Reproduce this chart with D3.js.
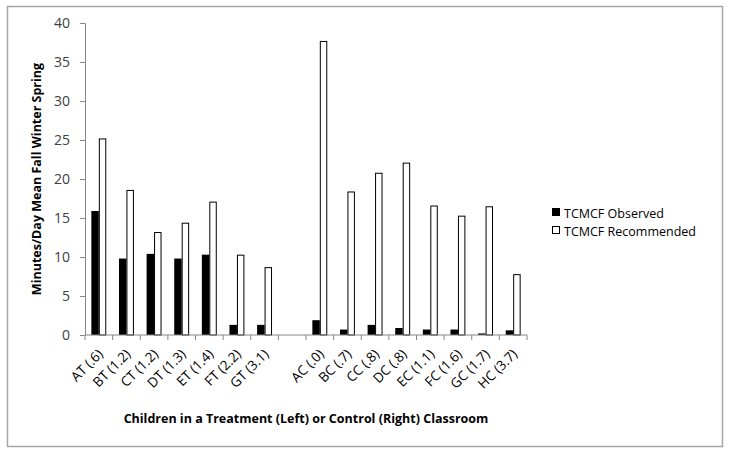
<!DOCTYPE html>
<html>
<head>
<meta charset="utf-8">
<script src="https://cdn.jsdelivr.net/npm/d3@7"></script>
<style>
  body { margin: 0; background: #fff; }
  text { font-family: "Open Sans", "Noto Sans", sans-serif; }
</style>
</head>
<body>
<script>
// categories (blank slot separates treatment and control groups)
const categories = ["AT (.6)", "BT (1.2)", "CT (1.2)", "DT (1.3)", "ET (1.4)", "FT (2.2)", "GT (3.1)", "",
  "AC (.0)", "BC (.7)", "CC (.8)", "DC (.8)", "EC (1.1)", "FC (1.6)", "GC (1.7)", "HC (3.7)"];
const observed = [15.9, 9.8, 10.4, 9.8, 10.3, 1.3, 1.3, null, 1.9, 0.7, 1.3, 0.9, 0.7, 0.7, 0.2, 0.6];
const recommended = [25.2, 18.6, 13.2, 14.4, 17.1, 10.3, 8.7, null, 37.7, 18.4, 20.8, 22.1, 16.6, 15.3, 16.5, 7.8];
const seriesNames = ["TCMCF Observed", "TCMCF Recommended"];
const yTicks = [0, 5, 10, 15, 20, 25, 30, 35, 40];

const W = 729, H = 453;
const margin = { top: 23, right: 202, bottom: 118, left: 85 },
  width = W - margin.left - margin.right,
  height = H - margin.top - margin.bottom;

const root = d3.select("body").append("svg")
  .attr("width", W).attr("height", H);

// chart area border
root.append("rect")
  .attr("x", 7.5).attr("y", 6.5).attr("width", 715).attr("height", 440)
  .attr("fill", "none").attr("stroke", "#a6a6a6").attr("stroke-width", 1.5);

const svg = root.append("g")
  .attr("transform", `translate(${margin.left},${margin.top})`);

const x = d3.scaleBand().domain(d3.range(categories.length)).range([0, width]);
const y = d3.scaleLinear().domain([0, 40]).range([height, 0]);

// y axis
const yAxis = svg.append("g")
  .call(d3.axisLeft(y).tickValues(yTicks).tickSize(5).tickPadding(10));
yAxis.selectAll("text").attr("font-size", 14).attr("fill", "#404040");

// bars
const bw = x.bandwidth() * 0.27;
const data = categories.map((c, i) => ({ i, obs: observed[i], rec: recommended[i] }))
  .filter(d => d.obs != null);

svg.selectAll(".obs").data(data).enter().append("rect")
  .attr("x", d => x(d.i) + x.bandwidth() / 2 - bw)
  .attr("y", d => y(d.obs))
  .attr("width", bw)
  .attr("height", d => y(0) - y(d.obs))
  .attr("fill", "#000");

svg.selectAll(".rec").data(data).enter().append("rect")
  .attr("x", d => x(d.i) + x.bandwidth() / 2 + 0.5)
  .attr("y", d => y(d.rec) + 0.5)
  .attr("width", bw - 1)
  .attr("height", d => y(0) - y(d.rec) - 0.5)
  .attr("fill", "#fff").attr("stroke", "#000").attr("stroke-width", 1);

// x axis (ticks at category boundaries)
const xg = svg.append("g").attr("transform", `translate(0,${height})`);
xg.append("line").attr("x1", 0).attr("x2", width).attr("stroke", "#868686");
xg.selectAll(".tk").data(d3.range(categories.length + 1)).enter().append("line")
  .attr("x1", i => i * x.step()).attr("x2", i => i * x.step())
  .attr("y1", 0).attr("y2", 5).attr("stroke", "#868686");
xg.selectAll(".lab").data(categories).enter().append("text")
  .attr("transform", (c, i) => `translate(${x(i) + x.bandwidth() / 2 + 5},${20}) rotate(-45)`)
  .attr("text-anchor", "end")
  .attr("font-size", 13.5).attr("fill", "#000")
  .text(c => c);

yAxis.select(".domain").attr("stroke", "#868686");
yAxis.selectAll(".tick line").attr("stroke", "#868686");

// axis titles
root.append("text")
  .attr("transform", `translate(41,${margin.top + height / 2}) rotate(-90)`)
  .attr("text-anchor", "middle").attr("font-size", 12.5).attr("font-weight", "bold")
  .text("Minutes/Day Mean Fall Winter Spring");
root.append("text")
  .attr("x", 306).attr("y", 423)
  .attr("text-anchor", "middle").attr("font-size", 12.5).attr("font-weight", "bold")
  .text("Children in a Treatment (Left) or Control (Right) Classroom");

// legend
const leg = root.append("g").attr("transform", "translate(552,213)");
seriesNames.forEach((name, k) => {
  const g = leg.append("g").attr("transform", `translate(0,${k * 18})`);
  g.append("rect").attr("x", 0.5).attr("y", -4.5).attr("width", 7).attr("height", 7)
    .attr("fill", k === 0 ? "#000" : "#fff").attr("stroke", "#000");
  g.append("text").attr("x", 12).attr("y", 4.5)
    .attr("font-size", 12.5).text(name);
});
</script>
</body>
</html>
